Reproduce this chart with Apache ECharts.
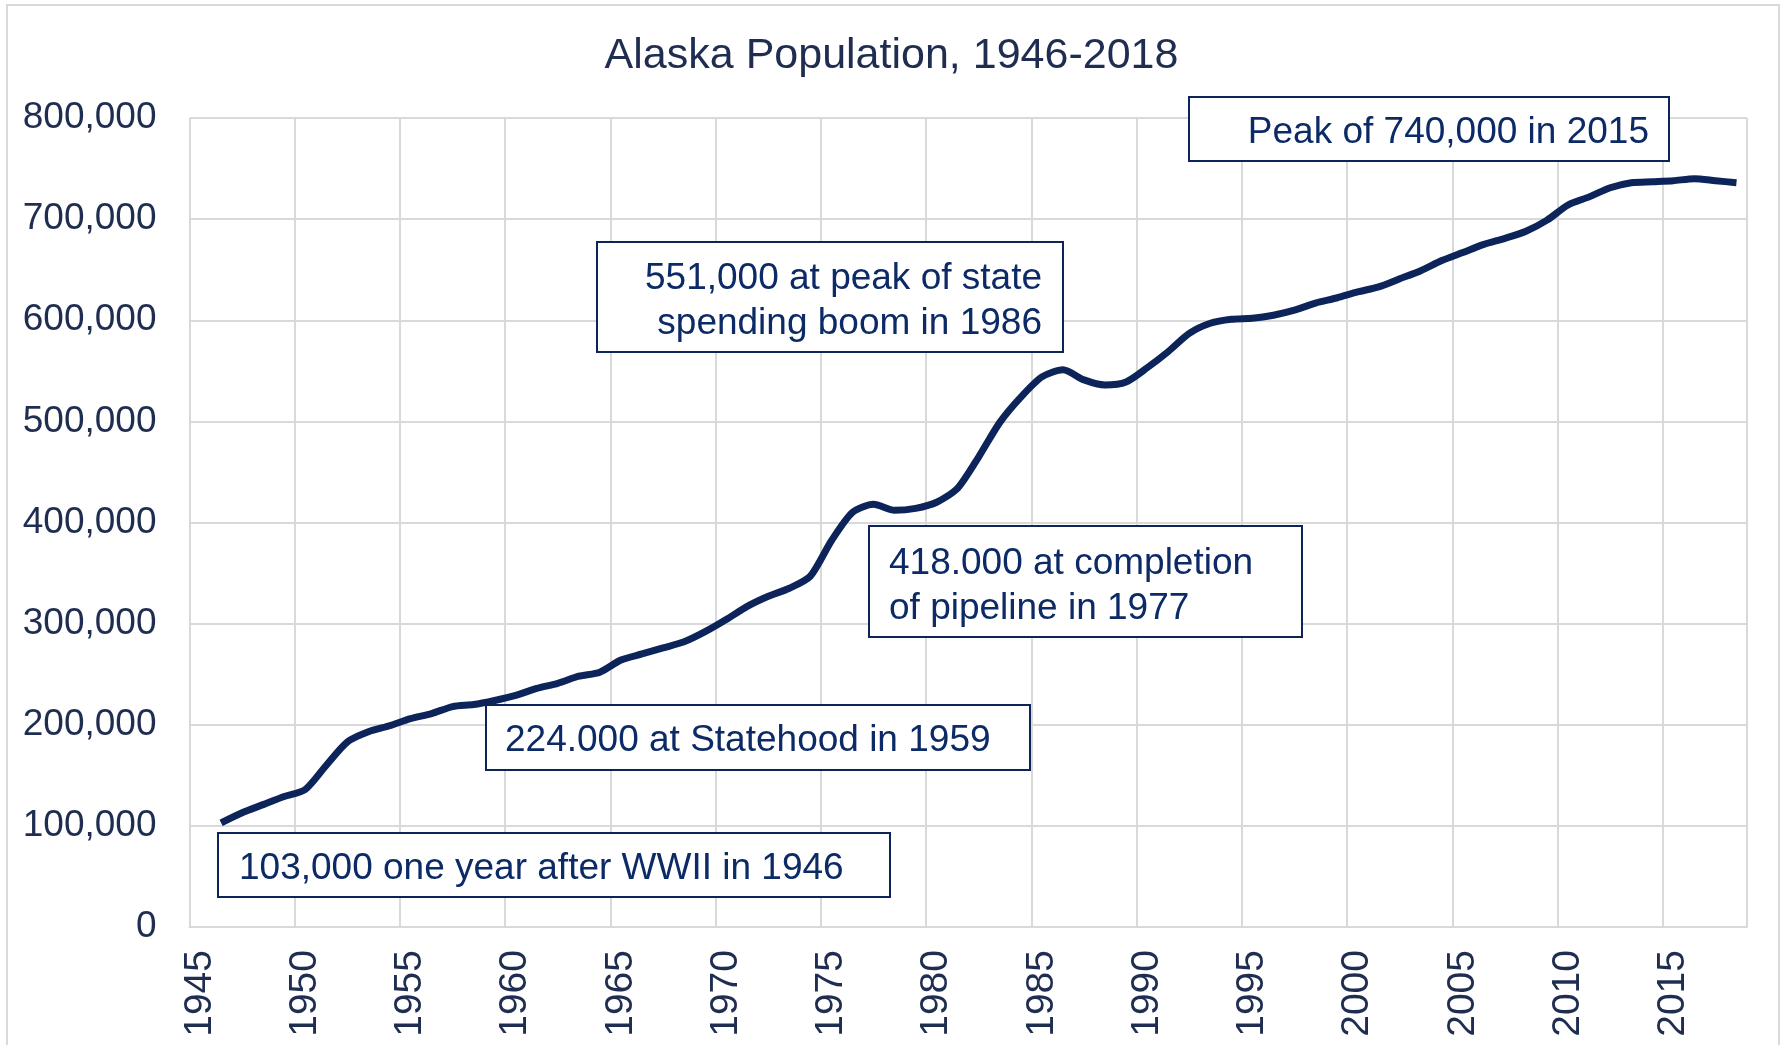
<!DOCTYPE html>
<html>
<head>
<meta charset="utf-8">
<script src="https://cdn.jsdelivr.net/npm/echarts@6/dist/echarts.min.js"></script>
<style>
  html, body { margin: 0; padding: 0; background: #fff; }
  #main { width: 1783px; height: 1045px; }
</style>
</head>
<body>
<div id="main"></div>
<script>
// years on the axis: 1945 .. 2018 (1945 has no value)
var years = [];
for (var y = 1945; y <= 2018; y++) years.push(String(y));

// population 1946 .. 2018
var population = [
    103000, 113000, 121000, 129000, 136000, 160000, 183000, 193000, 199000, 206000,   // 1946-1955
    211000, 218000, 220000, 224000, 229000, 236000, 241000, 248000, 252000, 264000,   // 1956-1965
    270000, 276000, 282000, 292000, 304000, 317000, 327000, 335000, 347000, 382000,   // 1966-1975
    410000, 418000, 412000, 414000, 420000, 434000, 465000, 499000, 524000, 544000,   // 1976-1985
    551000, 541000, 536000, 539000, 553000, 569000, 587000, 597000, 601000, 602000,   // 1986-1995
    605000, 610000, 617000, 622000, 628000, 633000, 641000, 649000, 659000, 667000,   // 1996-2005
    675000, 681000, 688000, 699000, 714000, 722000, 731000, 736000, 737000, 738000,   // 2006-2015
    740000, 738000, 736000                                                            // 2016-2018
];

var yTicks = [0, 100000, 200000, 300000, 400000, 500000, 600000, 700000, 800000];

var notes = [
    {text: 'Peak of 740,000 in 2015', box: [1189, 97, 480, 64], tx: 1649, ty: 133, align: 'right'},
    {text: '551,000 at peak of state\nspending boom in 1986', box: [597, 242, 466, 110], tx: 1042, ty: 301, align: 'right', lh: 45},
    {text: '418.000 at completion\nof pipeline in 1977', box: [869, 526, 433, 111], tx: 889, ty: 586, align: 'left', lh: 45},
    {text: '224.000 at Statehood in 1959', box: [486, 705, 544, 65], tx: 505, ty: 741, align: 'left'},
    {text: '103,000 one year after WWII in 1946', box: [218, 833, 672, 64], tx: 239, ty: 869, align: 'left'}
];

var navy = '#0c2459';
var labelColor = '#1f2d50';
var gridColor = '#d9d9d9';
var font = '"Liberation Sans", Arial, sans-serif';

var chart = echarts.init(document.getElementById('main'));

var graphics = [{
    type: 'rect',
    shape: {x: 7, y: 5, width: 1772, height: 1060},
    style: {fill: 'none', stroke: gridColor, lineWidth: 2},
    z: 0
}];
notes.forEach(function (n) {
    graphics.push({
        type: 'rect',
        shape: {x: n.box[0], y: n.box[1], width: n.box[2], height: n.box[3]},
        style: {fill: '#fff', stroke: navy, lineWidth: 2},
        z: 10
    });
    graphics.push({
        type: 'text',
        x: n.tx,
        y: n.ty,
        style: {
            text: n.text,
            fill: '#0b2a66',
            font: '37px ' + font,
            align: n.align,
            verticalAlign: 'middle',
            lineHeight: n.lh || 44
        },
        z: 11
    });
});

chart.setOption({
    animation: false,
    title: {
        text: 'Alaska Population, 1946-2018',
        left: 'center',
        top: 30,
        textStyle: {
            fontFamily: font,
            fontSize: 43,
            fontWeight: 'normal',
            color: labelColor
        }
    },
    grid: {
        left: 189.5,
        right: 36,
        top: 118,
        bottom: 118
    },
    xAxis: {
        type: 'category',
        data: years,
        boundaryGap: true,
        axisLine: {show: true, lineStyle: {color: gridColor, width: 2}},
        axisTick: {show: false},
        axisLabel: {
            interval: 4,
            rotate: 90,
            margin: 23,
            fontFamily: font,
            fontSize: 39,
            color: labelColor
        },
        splitLine: {
            show: true,
            interval: 4,
            lineStyle: {color: gridColor, width: 2}
        }
    },
    yAxis: {
        type: 'value',
        min: yTicks[0],
        max: yTicks[yTicks.length - 1],
        interval: 100000,
        axisLine: {show: false},
        axisTick: {show: false},
        axisLabel: {
            margin: 33,
            fontFamily: font,
            fontSize: 37,
            color: labelColor,
            formatter: function (v) { return v.toLocaleString('en-US'); }
        },
        splitLine: {lineStyle: {color: gridColor, width: 2}}
    },
    series: [{
        type: 'line',
        data: [null].concat(population),
        smooth: 0.25,
        showSymbol: false,
        lineStyle: {color: navy, width: 7},
        z: 5
    }],
    graphic: graphics
});
</script>
</body>
</html>
